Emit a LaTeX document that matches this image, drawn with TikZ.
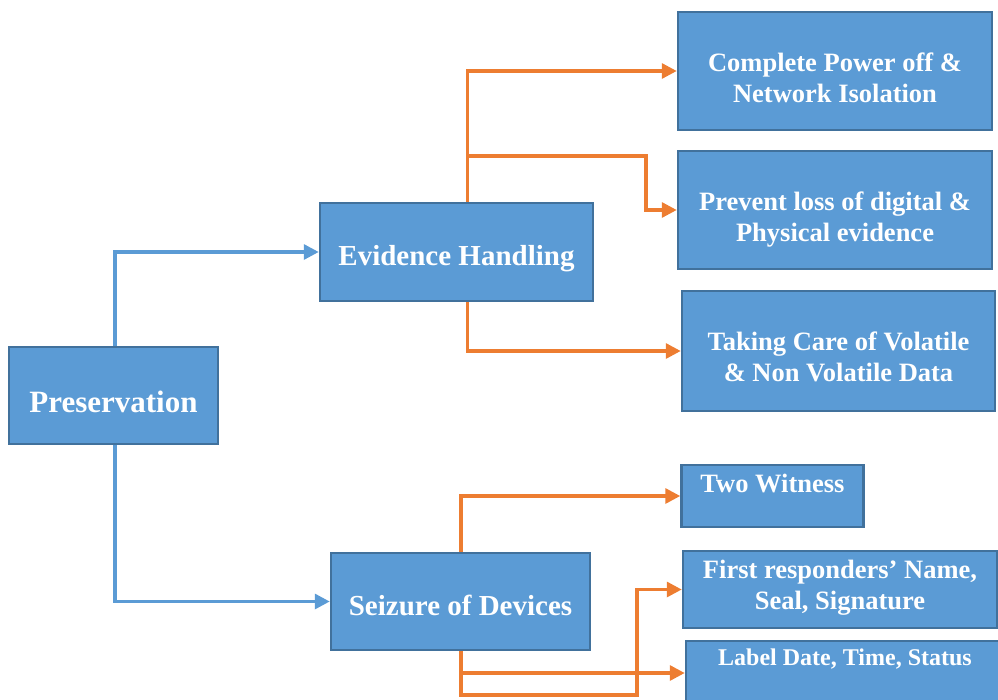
\documentclass[tikz,border=0pt]{standalone}
\usepackage{fontspec}
\setmainfont{Liberation Serif}
\usetikzlibrary{arrows.meta}
\definecolor{boxfill}{HTML}{5B9BD5}
\definecolor{boxline}{HTML}{41719C}
\definecolor{blueln}{HTML}{5B9BD5}
\definecolor{orangeln}{HTML}{ED7D31}
\newcommand{\twolines}[2]{\begin{tabular}[t]{@{}c@{}}#1\\#2\end{tabular}}
\tikzset{
  box/.style={draw=boxline, line width=2.5pt, fill=boxfill, text=white, font=\bfseries\fontsize{26.5}{31}\selectfont, inner sep=0pt, anchor=center},
  blink/.style={draw=blueln, line width=3.3pt, -{Triangle[length=15pt,width=15pt]}},
  olink/.style={draw=orangeln, line width=3.3pt, -{Triangle[length=15pt,width=15pt]}},
}
\begin{document}
\begin{tikzpicture}[x=1pt,y=-1pt]
\clip (0,0) rectangle (998,699);
\useasboundingbox (0,0) rectangle (998,699);
\node[box, minimum width=209pt, minimum height=97pt, text height=33pt, text depth=0pt, font=\bfseries\fontsize{31}{36}\selectfont] (pres) at (113.5,395.5) {Preservation};
\node[box, minimum width=273pt, minimum height=98pt, text height=26pt, text depth=0pt, font=\bfseries\fontsize{29}{34}\selectfont] (evid) at (456.5,252) {Evidence Handling};
\node[box, minimum width=259pt, minimum height=97pt, text height=27pt, text depth=0pt, font=\bfseries\fontsize{29}{34}\selectfont] (seiz) at (460.5,601.5) {Seizure of Devices};
\node[box, minimum width=314pt, minimum height=118pt, text height=0pt, text depth=0pt] (comp) at (835,71) {\twolines{Complete Power off \&}{Network Isolation}};
\node[box, minimum width=314pt, minimum height=118pt, text height=0pt, text depth=0pt] (prev) at (835,210) {\twolines{Prevent loss of digital \&}{Physical evidence}};
\node[box, minimum width=313pt, minimum height=120pt, text height=0pt, text depth=2pt] (take) at (838.5,351) {\twolines{Taking Care of Volatile}{\& Non Volatile Data}};
\node[box, minimum width=182pt, minimum height=62pt, text height=0pt, text depth=8pt] (two) at (772.5,496) {Two Witness};
\node[box, minimum width=314pt, minimum height=77pt, text height=0pt, text depth=23pt] (first) at (840,589.5) {\twolines{First responders’ Name,}{Seal, Signature}};
\node[box, minimum width=318pt, minimum height=64pt, text height=0pt, text depth=16pt, font=\bfseries\fontsize{24}{28}\selectfont] (lab) at (845,673) {Label Date, Time, Status};
% blue connectors
\draw[blink] ([xshift=1.5pt]pres.north) |- (evid.west);
\draw[blink] ([xshift=1.5pt]pres.south) |- (seiz.west);
% orange connectors from Evidence Handling
\coordinate (eb) at ([xshift=11pt]evid.north |- 0,156);
\coordinate (ec) at (646,156);
\draw[olink] ([xshift=11pt]evid.north) |- (comp.west);
\draw[olink] (eb) -- (ec) |- (prev.west);
\draw[olink] ([xshift=11pt]evid.south) |- (take.west);
% orange connectors from Seizure
\coordinate (sl) at ([xshift=0.5pt]seiz.south |- 0,695);
\coordinate (sr) at (637,695);
\draw[olink] ([xshift=0.5pt]seiz.north) |- (two.west);
\draw[olink] ([xshift=0.5pt]seiz.south) |- (lab.west);
\draw[olink] ([xshift=0.5pt]seiz.south) -- (sl) -- (sr) |- (first.west);
\end{tikzpicture}
\end{document}
